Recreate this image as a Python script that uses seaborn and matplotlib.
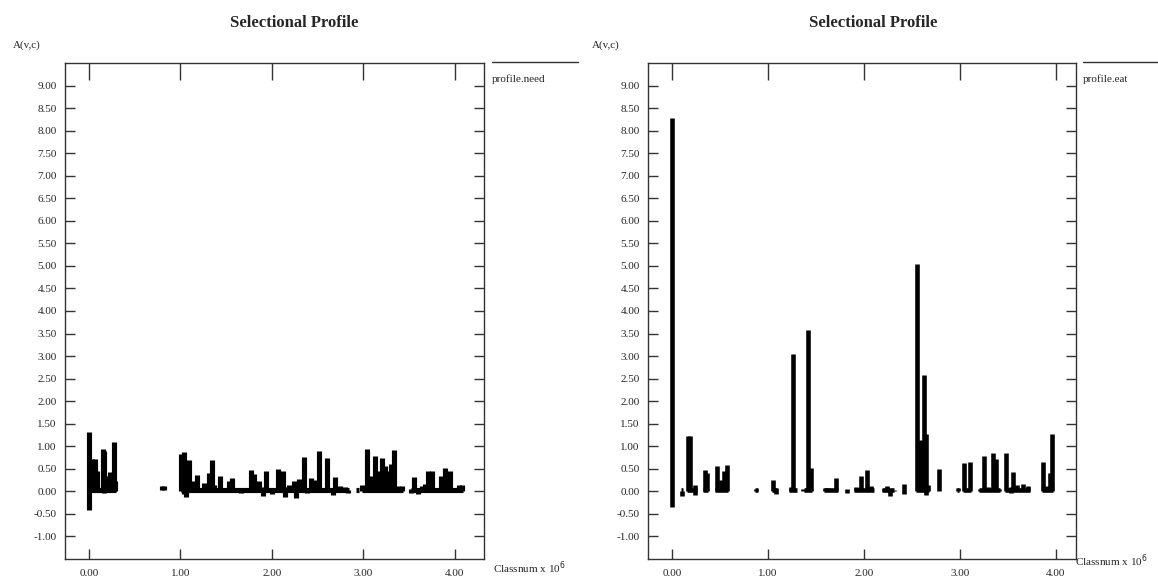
import seaborn as sns
import matplotlib.pyplot as plt
import pandas as pd
from matplotlib.lines import Line2D

sns.set_style("ticks")
plt.rcParams['font.family'] = ['Liberation Serif', 'DejaVu Serif']

# profile.need : bar position (Classnum x 10^6), low end, high end
need_pos = [0.00, 0.04, 0.065, 0.095, 0.15, 0.165, 0.205, 0.235, 0.275, 0.29,
            0.80, 0.82,
            1.01, 1.04, 1.06, 1.10, 1.13, 1.18, 1.26, 1.31, 1.345, 1.37, 1.43,
            1.53, 1.57, 1.62, 1.66, 1.72, 1.77, 1.81, 1.86, 1.90, 1.94, 2.00,
            2.07, 2.12, 2.15, 2.19, 2.24, 2.27, 2.30, 2.35, 2.38, 2.43, 2.47,
            2.52, 2.56, 2.60, 2.67, 2.69, 2.75, 2.80, 2.83,
            2.99, 3.04, 3.08, 3.13, 3.16, 3.20, 3.24, 3.27, 3.30, 3.34, 3.38, 3.42,
            3.52, 3.55, 3.60, 3.64, 3.68, 3.71, 3.75, 3.80, 3.85, 3.89, 3.95,
            4.01, 4.05, 4.08]
need_lo = [-0.42, 0.0, 0.0, 0.0, 0.0, -0.03, 0.0, 0.0, 0.0, 0.0,
           0.03, 0.03,
           0.0, -0.05, -0.12, 0.0, 0.0, 0.0, 0.0, 0.0, 0.0, 0.0, 0.0,
           0.0, 0.0, 0.0, -0.03, 0.0, 0.0, 0.0, 0.0, -0.10, 0.0, -0.05,
           0.0, 0.0, -0.12, 0.0, 0.0, -0.15, 0.0, 0.0, -0.03, 0.0, 0.0,
           0.0, 0.0, 0.0, -0.07, 0.0, 0.0, 0.0, -0.04,
           0.0, 0.0, 0.0, 0.0, 0.0, 0.0, 0.0, 0.0, 0.0, 0.0, 0.0, 0.0,
           -0.03, 0.0, -0.05, 0.0, 0.0, 0.0, 0.0, 0.0, 0.0, 0.0, 0.0,
           -0.02, 0.0, 0.0]
need_hi = [1.32, 0.72, 0.72, 0.45, 0.95, 0.90, 0.33, 0.42, 1.10, 0.22,
           0.12, 0.12,
           0.82, 0.87, 0.30, 0.70, 0.22, 0.37, 0.18, 0.40, 0.69, 0.15, 0.34,
           0.22, 0.30, 0.08, 0.05, 0.08, 0.48, 0.38, 0.22, 0.10, 0.45, 0.05,
           0.50, 0.45, 0.10, 0.15, 0.23, 0.05, 0.28, 0.77, 0.05, 0.30, 0.25,
           0.90, 0.05, 0.73, 0.05, 0.32, 0.12, 0.10, 0.02,
           0.15, 0.95, 0.35, 0.79, 0.45, 0.73, 0.57, 0.45, 0.60, 0.91, 0.12, 0.12,
           0.05, 0.32, 0.05, 0.12, 0.17, 0.45, 0.45, 0.05, 0.33, 0.52, 0.45,
           0.02, 0.15, 0.15]
need_run_start = [0.00, 1.01, 2.92, 2.99, 3.52]
need_run_end = [0.30, 2.84, 2.95, 3.43, 4.09]

# profile.eat
eat_pos = [0.00, 0.10, 0.165, 0.185, 0.24, 0.34, 0.37, 0.47, 0.51, 0.54, 0.57,
           0.88, 1.05, 1.08, 1.24, 1.26, 1.36, 1.42, 1.45, 1.59, 1.63, 1.71,
           1.82, 1.92, 1.97, 2.03, 2.07, 2.21, 2.24, 2.27, 2.31, 2.42,
           2.55, 2.57, 2.60, 2.63, 2.65, 2.67, 2.78,
           2.98, 3.04, 3.11, 3.21, 3.25, 3.29, 3.35, 3.38, 3.41, 3.48, 3.53,
           3.55, 3.60, 3.66, 3.71, 3.87, 3.91, 3.94, 3.96]
eat_lo = [-0.35, -0.10, 0.0, 0.0, -0.07, 0.0, 0.0, 0.0, 0.0, 0.0, 0.0,
          0.0, 0.0, -0.05, 0.0, 0.0, 0.0, 0.0, 0.0, 0.0, 0.0, 0.0,
          -0.04, 0.0, 0.0, 0.0, 0.0, 0.0, 0.0, -0.10, 0.0, -0.05,
          0.0, 0.0, 0.0, 0.0, -0.08, 0.0, 0.0,
          0.0, 0.0, 0.0, 0.0, 0.0, 0.0, 0.0, 0.0, 0.0, 0.0, -0.03,
          0.0, 0.0, 0.0, 0.0, 0.0, 0.0, 0.0, 0.0]
eat_hi = [8.28, 0.0, 1.23, 1.23, 0.15, 0.47, 0.40, 0.57, 0.25, 0.45, 0.58,
          0.06, 0.25, 0.07, 0.10, 3.04, 0.05, 3.58, 0.52, 0.07, 0.08, 0.30,
          0.05, 0.10, 0.33, 0.47, 0.12, 0.05, 0.13, 0.02, 0.02, 0.17,
          5.05, 1.10, 1.15, 2.57, 1.27, 0.15, 0.49,
          0.07, 0.62, 0.66, 0.05, 0.78, 0.10, 0.85, 0.72, 0.05, 0.85, 0.10,
          0.44, 0.15, 0.17, 0.12, 0.65, 0.13, 0.40, 1.28]
eat_run_start = [0.09, 0.16, 0.32, 0.45, 0.86, 1.04, 1.22, 1.38, 1.58, 1.90,
                 2.19, 2.54, 2.97, 3.03, 3.20, 3.47, 3.86]
eat_run_end = [0.11, 0.26, 0.38, 0.58, 0.90, 1.09, 1.30, 1.46, 1.73, 2.10,
               2.31, 2.68, 2.99, 3.12, 3.42, 3.73, 3.97]

y_ticks = [v / 2 for v in range(-2, 19)]
x_ticks = [0, 1, 2, 3, 4]


def build_frame(pos, lo, hi, run_start, run_end):
    rows = []
    for i, (p, a, b) in enumerate(zip(pos, lo, hi)):
        rows.append({"x": p, "y": a, "unit": f"b{i}"})
        rows.append({"x": p, "y": b, "unit": f"b{i}"})
    for i, (s, e) in enumerate(zip(run_start, run_end)):
        rows.append({"x": s, "y": 0.04, "unit": f"r{i}"})
        rows.append({"x": e, "y": 0.04, "unit": f"r{i}"})
    return pd.DataFrame(rows)


def draw_panel(ax, df, xlim, lw):
    sns.lineplot(data=df, x="x", y="y", units="unit", estimator=None, sort=False,
                 color="black", lw=lw, solid_capstyle="butt", legend=False, ax=ax)
    ax.set_xlim(*xlim)
    ax.set_ylim(-1.5, 9.5)
    ax.set_xticks(x_ticks)
    ax.set_xticklabels([f"{v:.2f}" for v in x_ticks])
    ax.set_yticks(y_ticks)
    ax.set_yticklabels([f"{v:.2f}" for v in y_ticks])
    ax.set_xlabel("")
    ax.set_ylabel("")
    ax.tick_params(axis="both", direction="in", length=7, width=1.0,
                   color="#333333", labelsize=8, top=True, right=True)
    ax.tick_params(axis="x", pad=7)
    ax.tick_params(axis="y", pad=6)
    for t in ax.xaxis.get_major_ticks():
        t.tick2line.set_markersize(12)
    for s in ax.spines.values():
        s.set_visible(True)
        s.set_linewidth(1.0)
        s.set_color("#333333")


fig = plt.figure(figsize=(11.58, 5.79), dpi=100)
W, H = 1158, 579
ax1 = fig.add_axes([65 / W, 20 / H, 419 / W, 496 / H])
ax2 = fig.add_axes([648 / W, 20 / H, 428 / W, 496 / H])

draw_panel(ax1, build_frame(need_pos, need_lo, need_hi, need_run_start, need_run_end),
           (-0.26, 4.32), 3.7)
draw_panel(ax2, build_frame(eat_pos, eat_lo, eat_hi, eat_run_start, eat_run_end),
           (-0.25, 4.21), 3.3)

# (panel offset, legend name, legend x, xlabel x, xlabel y)
panels = [(0, "profile.need", 492, 493, 568), (579, "profile.eat", 1083, 1075, 561)]
for x0, name, lx0, cx, cy in panels:
    fig.text((x0 + 294) / W, 1 - 23 / H, "Selectional Profile", ha="center", va="center",
             fontsize=12, fontweight="bold")
    fig.text((x0 + 13) / W, 1 - 45 / H, "A(v,c)", ha="left", va="center", fontsize=8)
    fig.text(lx0 / W, 1 - 79 / H, name, ha="left", va="center", fontsize=8)
    fig.add_artist(Line2D([lx0 / W, (lx0 + 86) / W], [1 - 62 / H, 1 - 62 / H],
                          color="#333333", lw=1.0, transform=fig.transFigure))
    fig.text(cx / W, 1 - cy / H, r"Classnum x 10$^{6}$", ha="left", va="center",
             fontsize=8)

plt.savefig("out.png", dpi=100)
plt.close()
